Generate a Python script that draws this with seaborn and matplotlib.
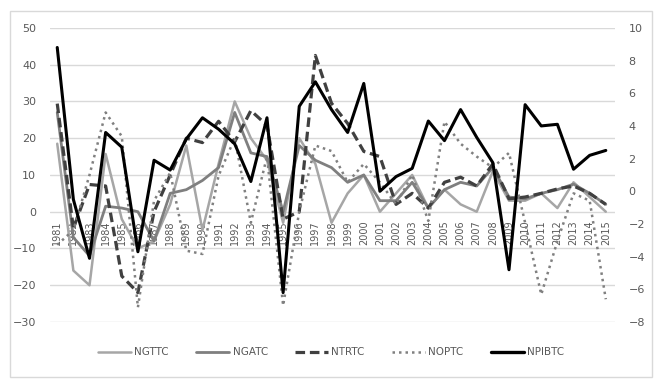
import numpy as np
import pandas as pd
import seaborn as sns
import matplotlib.pyplot as plt
from matplotlib.lines import Line2D
from matplotlib.patches import Rectangle

years = list(range(1981, 2016))

ngttc = [18.5, -16, -20, 15.7, -2, -10, -8, 2, 18, -5, 13, 30, 20, 14, -3,
         20, 13, -3, 5, 10, 0, 5, 10, 1, 6, 2, 0, 11, 3, 3, 5, 1, 8, 4, 0]
ngatc = [27, -7, -12, 1.5, 1, 0, -8, 5, 6, 8.5, 12, 27, 16, 15, 0,
         18, 14, 12, 8, 10, 3, 3, 8, 1, 6, 8, 7, 12, 4, 3.5, 5, 6, 7.5, 5, 2]
ntrtc = [29.4, -4.5, 7.4, 7, -17.5, -22, 0, 10, 20, 18.8, 24.6, 19, 27.5, 23.5, -2,
         0, 42.5, 29.5, 24, 16.4, 15, 2, 5, 1, 8, 9.4, 7, 13, 3.5, 4, 5, 6.2, 7, 5, 2]
noptc = [-9, -5, 10, 27, 20.5, -26, 3, 10.6, -10.6, -11.5, 9.8, 20, -3, 15, -25.5,
         0, 18, 16.5, 8, 13, 8, 2, 10, -2.5, 24.5, 18.5, 15, 12, 16, -3, -22.5, -8, 5, 3, -23.8]
npibtc = [8.8, -0.5, -4.1, 3.6, 2.7, -3.7, 1.9, 1.3, 3.2, 4.5, 3.8, 2.9, 0.6, 4.5, -6.2,
          5.2, 6.7, 5.0, 3.6, 6.6, 0.0, 0.9, 1.4, 4.3, 3.1, 5.0, 3.3, 1.75, -4.8, 5.3, 4.0, 4.1, 1.35, 2.2, 2.5]

df = pd.DataFrame({"pos": np.arange(len(years)), "NGTTC": ngttc, "NGATC": ngatc,
                   "NTRTC": ntrtc, "NOPTC": noptc, "NPIBTC": npibtc})

sns.set_style("white")
plt.rcParams['font.family'] = ['DejaVu Sans']

fig = plt.figure(figsize=(6.62, 3.82), dpi=100)
ax = fig.add_axes([0.0755, 0.157, 0.853, 0.770])
ax2 = ax.twinx()

txt = "#595959"
styles = {
    "NGTTC": dict(color="#a6a6a6", lw=1.8, ls="-"),
    "NGATC": dict(color="#7f7f7f", lw=2.0, ls="-"),
    "NTRTC": dict(color="#404040", lw=2.3, ls=(0, (3, 1.5))),
    "NOPTC": dict(color="#808080", lw=1.8, ls=(0, (1, 1.6))),
}
for name, st in styles.items():
    sns.lineplot(data=df, x="pos", y=name, ax=ax, color=st["color"],
                 linewidth=st["lw"], linestyle=st["ls"], zorder=3)
sns.lineplot(data=df, x="pos", y="NPIBTC", ax=ax2, color="black", linewidth=2.2, zorder=4)

ax.set_ylim(-30, 50)
ax.set_yticks(range(-30, 51, 10))
ax2.set_ylim(-8, 10)
ax2.set_yticks(range(-8, 11, 2))
ax.set_xlim(-0.45, 34.55)
ax.set_xticks(df["pos"])
ax.set_xticklabels([str(y) for y in years])
ax.spines["bottom"].set_position(("data", 0))

ax.grid(axis="y", color="#d9d9d9", lw=1)
ax.set_axisbelow(True)
for a in (ax, ax2):
    for s in a.spines.values():
        s.set_color("none")
    a.set_xlabel("")
    a.set_ylabel("")
ax.tick_params(axis="x", length=0, pad=6, labelsize=7, labelcolor=txt, labelrotation=90)
ax.tick_params(axis="y", length=0, pad=10, labelsize=8, labelcolor=txt)
ax2.tick_params(axis="y", length=0, pad=10, labelsize=8, labelcolor=txt)
for lab in ax.get_xticklabels():
    lab.set_va("top")
    lab.set_ha("center")

handles = [Line2D([], [], color=st["color"], lw=st["lw"], ls=st["ls"]) for st in styles.values()]
handles.append(Line2D([], [], color="black", lw=2.4))
fig.legend(handles, list(styles.keys()) + ["NPIBTC"], loc="center", bbox_to_anchor=(0.5, 0.078),
           ncol=5, frameon=False, fontsize=7.5, handlelength=3.2, columnspacing=2.6,
           handletextpad=0.3, labelcolor=txt)

fig.patches.append(Rectangle((0.015, 0.012), 0.97, 0.958, transform=fig.transFigure,
                             fill=False, edgecolor="#d9d9d9", lw=1))

fig.savefig("out.png", dpi=100)
